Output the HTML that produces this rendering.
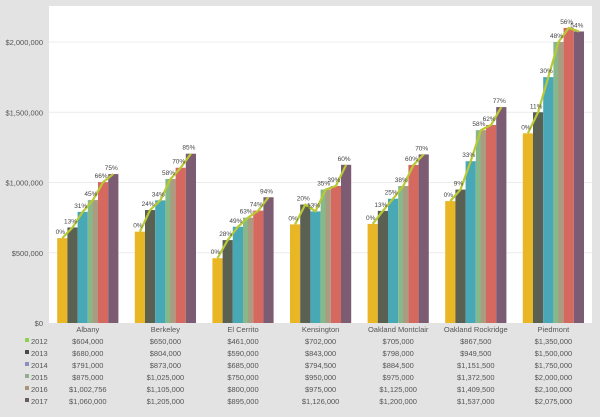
<!DOCTYPE html>
<html><head><meta charset="utf-8"><style>
body{margin:0;background:#e3e3e3;font-family:"Liberation Sans",sans-serif;}
svg{display:block}
</style></head><body>
<svg id="c" width="600" height="417">
<defs><linearGradient id="g15" x1="0" x2="1"><stop offset="0.45" stop-color="#86b88a"/><stop offset="0.5" stop-color="#a99c80"/></linearGradient></defs>
<rect x="49" y="6" width="543" height="317" fill="#fff"/>
</svg>
<script>
const categories=["Albany","Berkeley","El Cerrito","Kensington","Oakland Montclair","Oakland Rockridge","Piedmont"];
const years=["2012","2013","2014","2015","2016","2017"];
const v2012=[604000,650000,461000,702000,705000,867500,1350000];
const v2013=[680000,804000,590000,843000,798000,949500,1500000];
const v2014=[791000,873000,685000,794500,884500,1151500,1750000];
const v2015=[875000,1025000,750000,950000,975000,1372500,2000000];
const v2016=[1002756,1105000,800000,975000,1125000,1409500,2100000];
const v2017=[1060000,1205000,895000,1126000,1200000,1537000,2075000];
const yTicks=[0,500000,1000000,1500000,2000000];
const series=[v2012,v2013,v2014,v2015,v2016,v2017];
const colors=["#e9b626","#5b6152","#48a8b6","url(#g15)","#d6695f","#7b5c72"];
const legendColors=["#8fd14f","#4a4a4a","#8a8fc0","#8fb08a","#a9947a","#6a5a66"];
const svg=document.getElementById('c');
const NS="http://www.w3.org/2000/svg";
const x0=49,slot=77.6,bw=10.2,y0=323,scale=281/2000000;
const y=v=>y0-v*scale;
const cx=i=>x0+slot*i+slot/2;
function mk(t,a){const e=document.createElementNS(NS,t);for(const k in a)e.setAttribute(k,a[k]);svg.appendChild(e);return e;}
const fmt=v=>'$'+v.toLocaleString('en-US');
yTicks.forEach(t=>{
  if(t>0){const l=mk('line',{x1:49,x2:592,y1:y(t),y2:y(t),stroke:'#ececec'});
  
  }
  const tx=mk('text',{x:43,y:y(t)+3,'text-anchor':'end','font-size':7.5,fill:'#555'});
  tx.textContent=fmt(t);
  
  
});
categories.forEach((c,i)=>{
  const pts=[];
  series.forEach((s,j)=>{
    const bx=cx(i)-3*bw+j*bw;
    const r=mk('rect',{x:bx,y:y(s[i]),width:bw,height:y0-y(s[i]),fill:colors[j]});
    
    
    pts.push([bx+bw/2,y(s[i])]);
  });
  const p=mk('polyline',{points:pts.map(q=>q.join(',')).join(' '),fill:'none',stroke:'#b9c935','stroke-width':2.2,'stroke-linejoin':'round'});
  
  
  series.forEach((s,j)=>{
    const pct=Math.round((s[i]/series[0][i]-1)*100);
    const t=mk('text',{x:pts[j][0]-2,y:pts[j][1]-4,'text-anchor':'middle','font-size':6.5,fill:'#444'});
    t.textContent=pct+'%';
    
    
  });
  const cl=mk('text',{x:cx(i),y:332,'text-anchor':'middle','font-size':7.5,fill:'#555'});
  cl.textContent=c;
  
  
  series.forEach((s,j)=>{
    const t=mk('text',{x:cx(i),y:344+j*12,'text-anchor':'middle','font-size':7.5,fill:'#555'});
    t.textContent=fmt(s[i]);
    
    
  });
});
years.forEach((yr,j)=>{
  const r=mk('rect',{x:25,y:338+j*12,width:4,height:4,fill:legendColors[j]});
  
  
  const t=mk('text',{x:31,y:344+j*12,'font-size':7.5,fill:'#555'});
  t.textContent=yr;
  
  
});
</script>
</body></html>
